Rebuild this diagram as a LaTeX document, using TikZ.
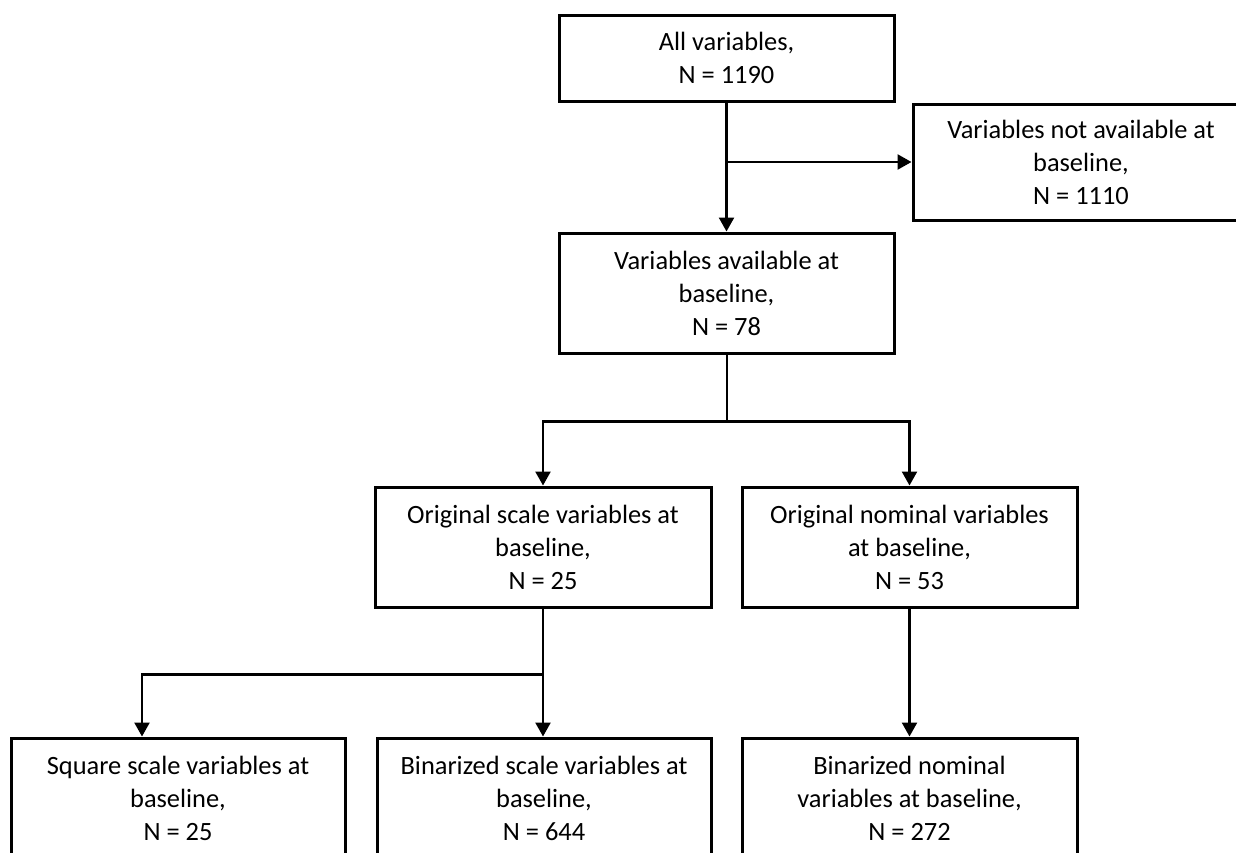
\documentclass[tikz,border=0pt]{standalone}
\usepackage{fontspec}
\setmainfont{Carlito}
\usetikzlibrary{arrows.meta, positioning}

\begin{document}
\begin{tikzpicture}[
    x=0.5pt, y=-0.5pt,
    >={Triangle[width=7.5pt,length=7pt]},
    box/.style={rectangle, draw, line width=1.5pt, minimum width=167.5pt,
        minimum height=60pt, inner sep=0pt, align=center},
    arr/.style={->, line width=1.2pt},
    link/.style={line width=1pt},
    every node/.style={font=\fontsize{13.2}{16.5}\selectfont}
]
\useasboundingbox (0,0) rectangle (1236,852);
\clip (0,0) rectangle (1236,852);

\node[box, minimum height=43pt] (all) at (726.5,58) {All variables,\\N = 1190};
\node[box, minimum height=58pt, minimum width=168pt] (notavail) at (1081,162)
    {Variables not available at\\baseline,\\N = 1110};
\node[box] (avail) at (726.5,293) {Variables available at\\baseline,\\N = 78};

\node[box, minimum width=168pt] (origscale) at (543,547)
    {Original scale variables at\\baseline,\\N = 25};
\node[box] (orignom) at (909.5,547) {Original nominal variables\\at baseline,\\N = 53};

\node[box, minimum width=167pt] (sqscale) at (178,798)
    {Square scale variables at\\baseline,\\N = 25};
\node[box, minimum width=167pt] (binscale) at (544,798)
    {Binarized scale variables at\\baseline,\\N = 644};
\node[box] (binnom) at (909.5,798) {Binarized nominal\\variables at baseline,\\N = 272};

% first split
\coordinate (b1) at (all.south |- notavail.west);
\draw[arr] (all.south) -- (avail.north);
\draw[arr] (b1) -- (notavail.west);

% scale / nominal
\coordinate (b2) at ([yshift=-33.5pt]avail.south);
\draw[link] (avail.south) -- (b2);
\draw[arr] (b2) -| (origscale.north);
\draw[arr] (b2) -| (orignom.north);

% transformed variables
\coordinate (b3) at ([yshift=-33pt]origscale.south);
\draw[arr] (origscale.south) -- (origscale.south |- binscale.north);
\draw[arr] (b3) -| ([xshift=-18pt]sqscale.north);
\draw[arr] (orignom.south) -- (binnom.north);

\end{tikzpicture}
\end{document}
